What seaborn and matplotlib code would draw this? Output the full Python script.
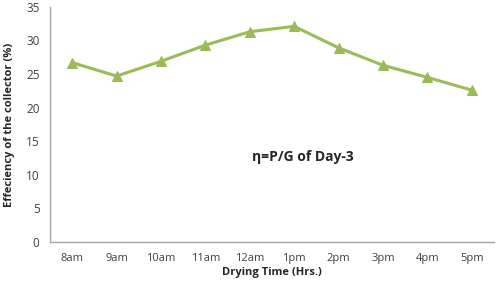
import matplotlib
matplotlib.use("Agg")
import matplotlib.pyplot as plt
import seaborn as sns
import numpy as np
import pandas as pd

# values
hours = ["8am", "9am", "10am", "11am", "12am", "1pm", "2pm", "3pm", "4pm", "5pm"]
efficiency = [26.7, 24.7, 26.9, 29.3, 31.3, 32.1, 28.9, 26.3, 24.5, 22.6]

sns.set_style("white")
plt.rcParams['font.family'] = ['Open Sans', 'DejaVu Sans']

df = pd.DataFrame({"pos": np.arange(len(hours)), "eff": efficiency})

fig = plt.figure(figsize=(5, 2.86), dpi=100)
ax = fig.add_axes([0.1, 0.154, 0.888, 0.822])

green = "#9BBB59"
sns.lineplot(data=df, x="pos", y="eff", ax=ax, color=green, linewidth=2.2,
             marker="^", markersize=7, markeredgecolor=green)

ax.set_xlim(-0.5, len(hours) - 0.5)
ax.set_ylim(0, 35)
ax.set_yticks(range(0, 36, 5))
ax.set_xticks(range(len(hours)))
ax.set_xticklabels(hours)
ax.set_xticks(np.arange(-0.5, len(hours)), minor=True)
ax.tick_params(axis="x", which="major", length=0, labelsize=8, pad=8, colors="#404040")
ax.tick_params(axis="x", which="minor", length=4, color="#A6A6A6", direction="out")
ax.tick_params(axis="y", length=4, color="#A6A6A6", labelsize=8.5, colors="#404040", direction="out")
ax.tick_params(axis="y", colors="#404040")
ax.tick_params(axis="x", which="minor", color="#A6A6A6")
for s in ["top", "right"]:
    ax.spines[s].set_visible(False)
for s in ["left", "bottom"]:
    ax.spines[s].set_color("#A6A6A6")
    ax.spines[s].set_linewidth(1)

ax.set_xlabel("Drying Time (Hrs.)", fontsize=8, fontweight="bold", labelpad=2)
ax.set_ylabel("Effeciency of the collector (%)", fontsize=8, fontweight="bold", labelpad=8)

ax.text(4.05, 12.7, "η=P/G of Day-3", fontsize=10, fontweight="bold", va="center", ha="left")

fig.savefig("out.png", dpi=100)
